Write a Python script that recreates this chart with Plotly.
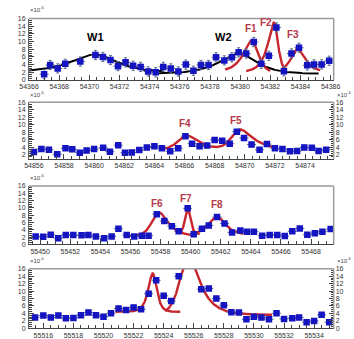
import numpy as np
import plotly.graph_objects as go

# ---------------- light-curve data (flux in units of 1e-6) ----------------
P1_T = [54367.0, 54367.4, 54367.9, 54368.4, 54369.4, 54370.4, 54370.9, 54371.4, 54371.9,
        54372.4, 54372.9, 54373.4, 54373.9, 54374.4, 54374.9, 54375.4, 54375.9, 54376.4,
        54376.9, 54377.4, 54377.9, 54378.4, 54378.95, 54379.45, 54379.9, 54380.4, 54380.9,
        54381.4, 54381.9, 54382.4, 54382.9, 54383.4, 54383.9, 54384.45, 54384.9, 54385.4,
        54385.9]
P1_F = [1.5, 3.9, 3.0, 4.2, 4.8, 6.5, 6.0, 5.2, 3.6,
        4.6, 3.7, 3.4, 2.2, 2.0, 3.4, 3.0, 2.2, 4.0,
        2.4, 3.9, 3.9, 5.9, 5.1, 5.9, 7.2, 6.9, 9.9,
        4.2, 6.3, 13.7, 2.25, 6.9, 8.4, 3.8, 4.05, 4.05,
        5.0]

P2_T = [54856.0, 54856.5, 54857.0, 54857.55, 54858.1, 54858.55, 54859.05, 54859.5, 54860.0,
        54860.6, 54861.05, 54861.6, 54862.05, 54862.5, 54863.0, 54863.5, 54864.0, 54864.5,
        54865.05, 54865.58, 54866.06, 54866.5, 54867.0, 54867.5, 54868.0, 54868.5, 54869.0,
        54869.47, 54869.95, 54870.45, 54870.98, 54871.47, 54872.0, 54872.5, 54873.0, 54873.47,
        54873.95, 54874.45, 54874.9, 54875.4]
P2_F = [2.8, 3.6, 3.4, 2.2, 3.8, 3.5, 2.6, 3.2, 3.6,
        3.9, 2.9, 4.6, 2.6, 2.7, 3.3, 4.0, 4.3, 3.8,
        3.0, 3.8, 7.0, 5.0, 4.3, 4.5, 6.0, 5.8, 5.0,
        8.2, 6.5, 4.8, 3.4, 4.9, 3.8, 3.6, 3.0, 3.1,
        4.0, 3.9, 3.1, 3.4]

P3_T = [55449.7, 55450.2, 55450.7, 55451.2, 55451.7, 55452.2, 55452.75, 55453.2, 55453.7,
        55454.25, 55454.75, 55455.2, 55455.75, 55456.25, 55456.75, 55457.2, 55457.75, 55458.25,
        55458.75, 55459.2, 55459.8, 55460.2, 55460.75, 55461.2, 55461.75, 55462.25, 55462.75,
        55463.3, 55463.75, 55464.2, 55464.75, 55465.25, 55465.75, 55466.25, 55466.75, 55467.25,
        55467.75, 55468.25, 55468.75, 55469.3]
P3_F = [2.2, 2.1, 2.65, 1.7, 2.6, 2.6, 2.5, 2.6, 2.2,
        1.7, 2.2, 4.3, 2.6, 2.2, 2.4, 2.4, 8.3, 6.4,
        5.0, 3.6, 9.9, 2.8, 4.3, 5.2, 7.5, 5.75, 3.3,
        3.8, 3.5, 3.5, 2.4, 2.6, 2.6, 2.3, 3.6, 4.4,
        2.65, 3.1, 3.5, 4.2]

P4_T = [55515.45, 55516.0, 55516.5, 55517.0, 55517.5, 55518.0, 55518.5, 55519.0, 55519.5,
        55520.0, 55520.5, 55521.0, 55521.5, 55522.0, 55522.5, 55523.0, 55523.5, 55524.0,
        55524.5, 55525.0, 55526.5, 55527.0, 55527.5, 55528.0, 55528.5, 55529.0, 55529.5,
        55530.0, 55530.5, 55531.0, 55531.5, 55532.0, 55532.55, 55533.0, 55533.5, 55534.0,
        55534.5, 55535.0]
P4_F = [2.9, 3.4, 2.9, 3.4, 2.65, 2.75, 3.5, 4.25, 3.5,
        3.1, 4.0, 5.3, 4.9, 5.6, 5.1, 9.3, 12.9, 8.7,
        7.3, 14.0, 10.5, 10.7, 8.0, 6.2, 4.3, 4.2, 2.4,
        3.1, 2.85, 2.4, 4.0, 2.5, 2.7, 2.9, 1.6, 1.95,
        3.6, 1.6]

# flux uncertainty per panel and half bin width (days)
FLUX_ERR = [1.2, 0.6, 0.5, 0.6]
HALF_BIN = 0.3

# tick labels of the time axes
P4_TICKS = [55516, 55518, 55520, 55522, 55524, 55526, 55528, 55530, 55532, 55534]

# ---------------- flare fits: (t_start, t_end, baseline, [(t0, amp, t_rise, t_decay)]) ----------------
P1_SLOW_FITS = [
    (54366.0, 54374.9, 2.0, [(54370.5, 4.6, 1.5, 1.2)]),
    (54374.6, 54385.2, 1.6, [(54380.0, 5.2, 1.2, 1.0)]),
]
P1_FAST_FITS = [
    (54379.0, 54382.0, 2.0, [(54380.9, 7.8, 0.6, 0.3)]),
    (54380.4, 54383.0, 2.0, [(54382.35, 11.8, 0.45, 0.18)]),
    (54382.8, 54385.3, 2.2, [(54383.75, 5.8, 0.35, 0.45)]),
]
P2_FITS = [(54864.3, 54872.2, 3.2, [(54866.05, 3.8, 0.5, 0.8), (54869.45, 5.0, 0.4, 1.0)])]
P3_FITS = [
    (55455.9, 55460.3, 2.2, [(55457.75, 6.3, 0.35, 0.65)]),
    (55459.2, 55460.6, 2.8, [(55459.8, 7.2, 0.15, 0.15)]),
    (55460.2, 55463.5, 2.6, [(55461.75, 5.0, 0.5, 0.5)]),
]
P4_FITS = [
    (55520.8, 55525.1, 4.4, [(55523.3, 10.3, 0.28, 0.22)]),
    (55524.1, 55531.2, 3.6, [(55525.45, 15.0, 0.4, 0.8)]),
]

# flare names and where they are written
W_NAMES = [("W1", 54370.4, 11.3), ("W2", 54378.9, 11.3)]
F_NAMES = [
    (1, "F1", 54380.7, 13.3), (1, "F2", 54381.7, 14.9), (1, "F3", 54383.5, 11.8),
    (2, "F4", 54866.0, 10.4), (2, "F5", 54869.45, 11.3),
    (3, "F6", 55457.75, 11.3), (3, "F7", 55459.7, 12.6), (3, "F8", 55461.75, 10.9),
    (4, "F9", 55523.4, 17.4), (4, "F10", 55525.6, 17.6),
]

# ---------------- layout geometry ----------------
W, H = 354, 339
X_DOM = [20 / W, 340 / W]
PANELS = [  # (top px, bottom px, x range, y range)
    (15, 78, [54366.0, 54386.2], [0, 16]),
    (101, 159, [54855.68, 54875.9], [1, 16]),
    (187, 247, [55449.26, 55469.5], [0, 16]),
    (272, 333, [55515.05, 55535.3], [0, 16]),
]
RIGHT_LABELS = {2: 5, 4: 6}  # panel -> extra right-side y axis

BLUE = "#1414c0"
RED = "#c8262f"
LABEL_RED = "#b53a4a"
FRAME = "#9a9a9a"
FONT = "Liberation Sans"


def flare_model(t, base, comps):
    y = np.full_like(t, base, dtype=float)
    for t0, amp, tr, td in comps:
        y += 2.0 * amp / (np.exp((t0 - t) / tr) + np.exp((t - t0) / td))
    return y


fig = go.Figure()

series = [(P1_T, P1_F), (P2_T, P2_F), (P3_T, P3_F), (P4_T, P4_F)]
fits = [P1_SLOW_FITS + P1_FAST_FITS, P2_FITS, P3_FITS, P4_FITS]

for i, (tt, ff) in enumerate(series):
    n = i + 1
    xa = "x" if n == 1 else f"x{n}"
    ya = "y" if n == 1 else f"y{n}"
    # fit curves
    for k, (t_a, t_b, base, comps) in enumerate(fits[i]):
        t = np.linspace(t_a, t_b, 400)
        color = "black" if (n == 1 and k < len(P1_SLOW_FITS)) else RED
        width = 2.0 if color == "black" else 2.4
        fig.add_trace(go.Scatter(x=t, y=flare_model(t, base, comps), mode="lines",
                                 line=dict(color=color, width=width),
                                 xaxis=xa, yaxis=ya, showlegend=False, hoverinfo="skip"))
    # measured points
    fig.add_trace(go.Scatter(
        x=tt, y=ff, mode="markers", xaxis=xa, yaxis=ya, showlegend=False,
        marker=dict(symbol="square", size=6.5, color=BLUE, line=dict(width=0)),
        error_y=dict(type="constant", value=FLUX_ERR[i], color="#5a6a90", thickness=1, width=1.5),
        error_x=dict(type="constant", value=HALF_BIN, color="#5a6a90", thickness=1, width=0),
    ))

axis_font = dict(family=FONT, size=7, color="#333333")
layout = dict(width=W, height=H, margin=dict(l=0, r=0, t=0, b=0),
              plot_bgcolor="white", paper_bgcolor="white", showlegend=False)

shapes = []
annotations = []
for i, (top, bot, xr, yr) in enumerate(PANELS):
    n = i + 1
    ydom = [1 - bot / H, 1 - top / H]
    exp_dy = 0.012 if n == 1 else 0.008
    xkey = "xaxis" if n == 1 else f"xaxis{n}"
    ykey = "yaxis" if n == 1 else f"yaxis{n}"
    layout[xkey] = dict(
        domain=X_DOM, range=xr, anchor="y" if n == 1 else f"y{n}",
        showline=True, linecolor="#444", linewidth=1, ticks="inside", ticklen=5,
        tickcolor="#444", dtick=2, tick0=0, tickformat="d", tickfont=axis_font,
        showgrid=False, zeroline=False, ticklabelstandoff=0,
        minor=dict(ticks="inside", ticklen=3, dtick=0.5, tickcolor="#444"),
    )
    if n == 4:
        layout[xkey].update(tickmode="array", tickvals=P4_TICKS, ticktext=[str(v) for v in P4_TICKS])
    layout[ykey] = dict(
        domain=ydom, range=yr, anchor="x" if n == 1 else f"x{n}",
        showline=True, linecolor="#666", linewidth=1, ticks="inside", ticklen=5,
        tickcolor="#444", dtick=2, tick0=0, tickfont=axis_font,
        showgrid=False, zeroline=False, ticklabelstandoff=1,
        minor=dict(ticks="inside", ticklen=2.5, dtick=0.5, tickcolor="#444"),
    )
    # gray frame: top edge and right edge
    shapes.append(dict(type="line", xref="paper", yref="paper", x0=X_DOM[0], x1=X_DOM[1],
                       y0=ydom[1], y1=ydom[1], line=dict(color=FRAME, width=1.5)))
    shapes.append(dict(type="line", xref="paper", yref="paper", x0=X_DOM[1], x1=X_DOM[1],
                       y0=ydom[0], y1=ydom[1], line=dict(color=FRAME, width=1.5)))
    # exponent marker
    annotations.append(dict(text="×10<sup>-6</sup>", xref="paper", yref="paper",
                            x=X_DOM[0] - 0.003, y=ydom[1] + exp_dy, xanchor="left", yanchor="bottom",
                            showarrow=False, font=dict(family=FONT, size=6, color="#444")))
    if n in RIGHT_LABELS:
        rk = RIGHT_LABELS[n]
        layout[f"yaxis{rk}"] = dict(
            domain=ydom, range=yr, overlaying=f"y{n}", side="right", anchor=f"x{n}",
            showline=False, ticks="inside", ticklen=5, tickcolor="#444", dtick=2, tick0=0,
            tickfont=axis_font, showgrid=False, zeroline=False, ticklabelstandoff=1,
            minor=dict(ticks="inside", ticklen=2.5, dtick=0.5, tickcolor="#444"),
        )
        fig.add_trace(go.Scatter(x=[xr[0]], y=[yr[0]], xaxis=f"x{n}", yaxis=f"y{rk}",
                                 mode="markers", marker=dict(opacity=0), showlegend=False,
                                 hoverinfo="skip"))
        annotations.append(dict(text="×10<sup>-6</sup>", xref="paper", yref="paper",
                                x=X_DOM[1] + 0.004, y=ydom[1] + exp_dy, xanchor="left",
                                yanchor="bottom", showarrow=False,
                                font=dict(family=FONT, size=6, color="#444")))

for name, tx, fy in W_NAMES:
    annotations.append(dict(text=f"<b>{name}</b>", x=tx, y=fy, xref="x", yref="y",
                            showarrow=False, font=dict(family=FONT, size=11, color="black")))
for n, name, tx, fy in F_NAMES:
    annotations.append(dict(text=f"<b>{name}</b>", x=tx, y=fy,
                            xref="x" if n == 1 else f"x{n}", yref="y" if n == 1 else f"y{n}",
                            showarrow=False, font=dict(family=FONT, size=10, color=LABEL_RED)))

layout["shapes"] = shapes
layout["annotations"] = annotations
fig.update_layout(**layout)
fig.write_html("out.html")
